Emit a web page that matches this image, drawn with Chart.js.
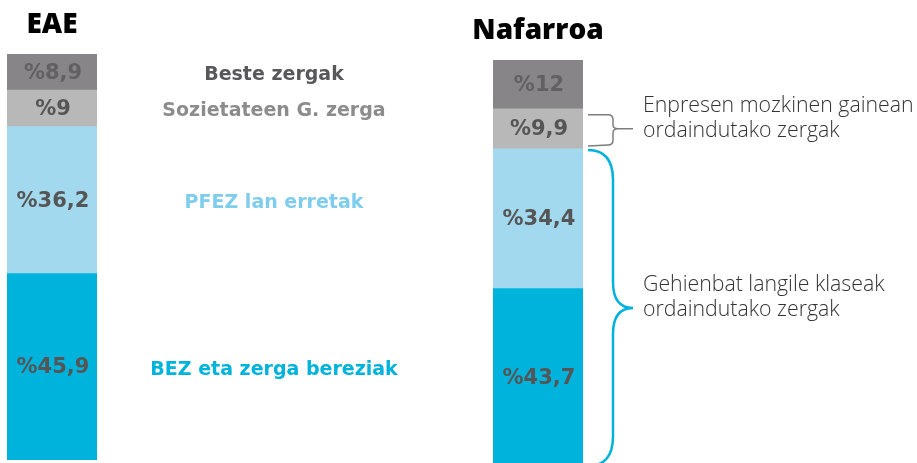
<!DOCTYPE html>
<html>
<head>
<meta charset="utf-8">
<script src="https://cdn.jsdelivr.net/npm/chart.js@4/dist/chart.umd.min.js"></script>
<style>
  html, body { margin: 0; padding: 0; background: #fff; }
  #wrap { position: relative; width: 917px; height: 463px; overflow: hidden; }
  #wrap canvas { position: absolute; left: 0; top: 0; }
</style>
</head>
<body>
<div id="wrap">
  <canvas id="eae" width="917" height="463"></canvas>
  <canvas id="naf" width="917" height="470"></canvas>
</div>
<script>
// stacked from the bottom up
const categories = ["BEZ eta zerga bereziak", "PFEZ lan erretak", "Sozietateen G. zerga", "Beste zergak"];
const eaeValues = [45.9, 36.2, 9, 8.9];
const nafValues = [43.7, 34.4, 9.9, 12];
const barColors = ["#00b3dc", "#a2d9ee", "#b8b8b8", "#878587"];
const nameColors = ["#00b3dc", "#7fcdec", "#8c8c8c", "#58585a"];
const valueColors = ["#555555", "#555555", "#555555", "#626063"];
const notes = [
  ["Enpresen mozkinen gainean", "ordaindutako zergak"],
  ["Gehienbat langile klaseak", "ordaindutako zergak"]
];

function fmt(v) {
  return "%" + String(v).replace(".", ",");
}

function makeDatasets(values) {
  return values.map(function (v, i) {
    return {
      label: categories[i],
      data: [v],
      backgroundColor: barColors[i],
      borderWidth: 0,
      categoryPercentage: 1,
      barPercentage: 1
    };
  });
}

function segs(chart) {
  return chart.data.datasets.map(function (d, i) {
    return chart.getDatasetMeta(i).data[0].getProps(["x", "y", "base", "width"], true);
  });
}

const labelsPlugin = {
  id: "labels",
  afterDatasetsDraw: function (chart, args, opts) {
    const ctx = chart.ctx;
    const s = segs(chart);
    const area = chart.chartArea;
    ctx.save();
    // title
    ctx.font = "800 28px 'Open Sans'";
    ctx.fillStyle = "#000";
    ctx.textAlign = "center";
    ctx.textBaseline = "alphabetic";
    ctx.fillText(opts.title, (area.left + area.right) / 2, area.top - 21);
    // values in the bars
    ctx.font = "bold 21px 'DejaVu Sans'";
    ctx.textBaseline = "middle";
    s.forEach(function (p, i) {
      ctx.fillStyle = valueColors[i];
      ctx.fillText(fmt(chart.data.datasets[i].data[0]), p.x + 1, (p.y + p.base) / 2 + 1);
    });
    if (opts.names) {
      ctx.font = "bold 19px 'DejaVu Sans'";
      s.forEach(function (p, i) {
        ctx.fillStyle = nameColors[i];
        ctx.fillText(categories[i], 274, (p.y + p.base) / 2 + 3);
      });
    }
    if (opts.braces) {
      const x0 = area.right + 5;
      // grey brace round the company tax segment
      const g = s[2];
      const gt = g.y + 6, gb = g.base - 4, gm = (g.y + g.base) / 2;
      ctx.strokeStyle = "#7d7d7d";
      ctx.lineWidth = 1.5;
      ctx.beginPath();
      ctx.moveTo(x0, gt);
      ctx.lineTo(x0 + 20, gt);
      ctx.quadraticCurveTo(x0 + 25, gt, x0 + 25, gt + 5);
      ctx.lineTo(x0 + 25, gm - 4);
      ctx.quadraticCurveTo(x0 + 25, gm, x0 + 30, gm);
      ctx.lineTo(x0 + 45, gm);
      ctx.moveTo(x0 + 30, gm);
      ctx.quadraticCurveTo(x0 + 25, gm, x0 + 25, gm + 4);
      ctx.lineTo(x0 + 25, gb - 5);
      ctx.quadraticCurveTo(x0 + 25, gb, x0 + 20, gb);
      ctx.lineTo(x0, gb + 1);
      ctx.stroke();
      // blue brace round the two lower segments
      const bt = s[1].y + 1, bb = s[0].base, bm = (bt + bb) / 2;
      const xv = x0 + 25, xt = x0 + 45;
      ctx.strokeStyle = "#00b3dc";
      ctx.lineWidth = 2.5;
      ctx.beginPath();
      ctx.moveTo(x0, bt);
      ctx.quadraticCurveTo(xv, bt, xv, bt + 30);
      ctx.lineTo(xv, bm - 26);
      ctx.quadraticCurveTo(xv, bm, xt, bm);
      ctx.quadraticCurveTo(xv, bm, xv, bm + 26);
      ctx.lineTo(xv, bb - 30);
      ctx.quadraticCurveTo(xv, bb, x0, bb);
      ctx.stroke();
      // notes
      ctx.font = "300 21.3px 'Open Sans'";
      ctx.fillStyle = "#333333";
      ctx.textAlign = "left";
      ctx.textBaseline = "alphabetic";
      [gm, bm].forEach(function (m, k) {
        ctx.fillText(notes[k][0], xt + 10, m - 17);
        ctx.fillText(notes[k][1], xt + 10, m + 8);
      });
    }
    ctx.restore();
  }
};

function makeChart(id, values, padding, opts) {
  return new Chart(document.getElementById(id).getContext("2d"), {
    type: "bar",
    data: { labels: [opts.title], datasets: makeDatasets(values) },
    options: {
      responsive: false,
      animation: false,
      layout: { padding: padding },
      plugins: { legend: { display: false }, tooltip: { enabled: false }, labels: opts },
      scales: {
        x: { stacked: true, display: false },
        y: { stacked: true, display: false, min: 0, max: 100 }
      }
    },
    plugins: [labelsPlugin]
  });
}

makeChart("eae", eaeValues, { left: 7, right: 820, top: 54, bottom: 3 }, { title: "EAE", names: true, braces: false });
makeChart("naf", nafValues, { left: 493, right: 334, top: 60, bottom: 4 }, { title: "Nafarroa", names: false, braces: true });
</script>
</body>
</html>
